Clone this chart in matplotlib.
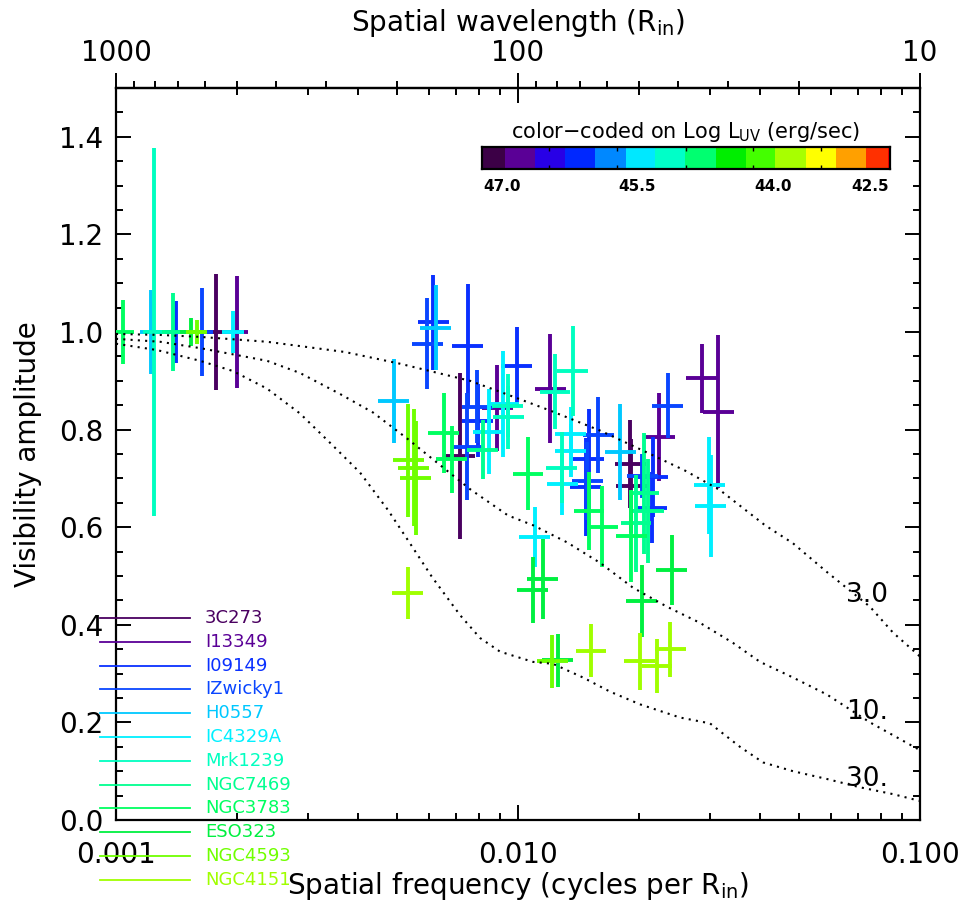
import numpy as np
import matplotlib
matplotlib.use("Agg")
import matplotlib.pyplot as plt
from matplotlib.lines import Line2D
from matplotlib.ticker import FixedLocator, NullFormatter, MultipleLocator

plt.rcParams["font.family"] = ["DejaVu Sans"]

# sources, legend order and colours
names = ['3C273', 'I13349', 'I09149', 'IZwicky1', 'H0557', 'IC4329A',
         'Mrk1239', 'NGC7469', 'NGC3783', 'ESO323', 'NGC4593', 'NGC4151']
colors = ['#4a0060', '#5a0096', '#0a30ff', '#0a46ff', '#00c8ff', '#00f0ff',
          '#00ffc0', '#00ff90', '#00ff60', '#00f040', '#70ff00', '#a0ff00']

# long-baseline visibilities
pt_src = (['3C273'] * 3 + ['I13349'] * 5 + ['I09149'] * 8 + ['IZwicky1'] * 7 +
          ['H0557'] * 3 + ['IC4329A'] * 8 + ['Mrk1239'] * 5 + ['NGC7469'] * 4 +
          ['NGC3783'] * 6 + ['ESO323'] * 5 + ['NGC4593'] * 4 + ['NGC4151'] * 5)
freq = [0.00717, 0.01900, 0.01911,
        0.01202, 0.00887, 0.02243, 0.02864, 0.03150,
        0.00615, 0.00749, 0.00793, 0.00993, 0.01498, 0.01476, 0.02161, 0.02154,
        0.00594, 0.00747, 0.00791, 0.01584, 0.01485, 0.02035, 0.02357,
        0.00624, 0.00491, 0.01794,
        0.00918, 0.00846, 0.01351, 0.01351, 0.01290, 0.01102, 0.02991, 0.03015,
        0.01368, 0.01236, 0.00942, 0.00947, 0.01283,
        0.00817, 0.02058, 0.02106, 0.01966,
        0.00654, 0.00685, 0.01059, 0.01911, 0.01502, 0.01622,
        0.02412, 0.02030, 0.01151, 0.01087, 0.01254,
        0.00534, 0.00551, 0.00556, 0.01218,
        0.00532, 0.01519, 0.02008, 0.02394, 0.02217]
vis = [0.745, 0.730, 0.684,
       0.884, 0.845, 0.785, 0.905, 0.837,
       1.020, 0.971, 0.818, 0.931, 0.739, 0.682, 0.702, 0.640,
       0.976, 0.765, 0.847, 0.789, 0.694, 0.704, 0.849,
       1.009, 0.859, 0.754,
       0.853, 0.796, 0.792, 0.757, 0.688, 0.580, 0.686, 0.643,
       0.920, 0.878, 0.849, 0.825, 0.722,
       0.759, 0.670, 0.633, 0.608,
       0.794, 0.739, 0.710, 0.582, 0.633, 0.601,
       0.513, 0.449, 0.494, 0.471, 0.327,
       0.737, 0.722, 0.701, 0.325,
       0.465, 0.347, 0.325, 0.350, 0.315]
vis_err = [0.170, 0.090, 0.096,
           0.112, 0.088, 0.091, 0.070, 0.157,
           0.097, 0.127, 0.075, 0.079, 0.104, 0.100, 0.082, 0.073,
           0.093, 0.110, 0.075, 0.078, 0.080, 0.045, 0.066,
           0.087, 0.086, 0.099,
           0.109, 0.087, 0.055, 0.055, 0.063, 0.061, 0.099, 0.104,
           0.092, 0.076, 0.065, 0.065, 0.073,
           0.060, 0.124, 0.107, 0.099,
           0.082, 0.069, 0.075, 0.094, 0.080, 0.083,
           0.072, 0.073, 0.082, 0.068, 0.055,
           0.116, 0.120, 0.117, 0.055,
           0.053, 0.054, 0.058, 0.056, 0.055]
freq_err_dex = 0.0385

# short-baseline points (normalised to 1)
sb_src = ['NGC3783', 'H0557', 'Mrk1239', 'NGC7469', 'I09149', 'ESO323',
          'NGC4593', 'IZwicky1', '3C273', 'IC4329A', 'I13349']
sb_freq = [0.001039, 0.001222, 0.001245, 0.001384, 0.001410, 0.001534,
           0.001587, 0.001634, 0.001773, 0.001954, 0.001996]
sb_vis = [1.0] * len(sb_freq)
sb_err = [0.066, 0.086, 0.377, 0.080, 0.064, 0.028, 0.025, 0.091, 0.118, 0.044, 0.114]
sb_freq_err_dex = 0.027

# ring model curves (labelled by size)
c3_f = [0.001, 0.001287, 0.001618, 0.002375, 0.003712, 0.005088, 0.007596, 0.009126,
        0.01202, 0.01600, 0.02046, 0.02603, 0.03180, 0.04116, 0.04831, 0.05870,
        0.07509, 0.08568, 0.1]
c3_v = [0.996, 0.994, 0.990, 0.980, 0.959, 0.935, 0.900, 0.876, 0.839, 0.798, 0.757,
        0.716, 0.676, 0.604, 0.567, 0.508, 0.437, 0.384, 0.335]
c10_f = [0.001, 0.001287, 0.001618, 0.002375, 0.002869, 0.003608, 0.004359, 0.005294,
         0.006145, 0.007596, 0.009445, 0.01090, 0.01324, 0.01600, 0.01932, 0.02348,
         0.02836, 0.03425, 0.04000, 0.04831, 0.05870, 0.07509, 0.1]
c10_v = [0.986, 0.980, 0.967, 0.941, 0.916, 0.873, 0.835, 0.782, 0.739, 0.678, 0.624,
         0.604, 0.569, 0.527, 0.476, 0.437, 0.404, 0.363, 0.324, 0.292, 0.257, 0.200, 0.143]
c30_f = [0.001, 0.001265, 0.001618, 0.001954, 0.002375, 0.002869, 0.003407, 0.004046,
         0.004750, 0.005386, 0.006110, 0.007173, 0.008046, 0.009022, 0.01090, 0.01222,
         0.01451, 0.01694, 0.02012, 0.02529, 0.03003, 0.03565, 0.04069, 0.04831,
         0.05870, 0.07093, 0.08568, 0.1]
c30_v = [0.976, 0.963, 0.941, 0.920, 0.884, 0.833, 0.773, 0.712, 0.635, 0.567, 0.498,
         0.420, 0.373, 0.345, 0.324, 0.320, 0.292, 0.263, 0.237, 0.210, 0.198, 0.150,
         0.118, 0.100, 0.084, 0.067, 0.053, 0.039]
curve_labels = ['3.0', '10.', '30.']
curve_label_f = [0.0738, 0.0738, 0.0738]
curve_label_v = [0.461, 0.222, 0.084]

# colour bar (Log L_UV)
cbar_edges = [47.22, 46.97, 46.63, 46.30, 45.97, 45.63, 45.30, 44.97, 44.63,
              44.30, 43.97, 43.63, 43.30, 42.97, 42.72, 42.70]
cbar_colors = ['#3c0046', '#5a0096', '#2800e6', '#0028ff', '#0088ff', '#00e8ff',
               '#00ffc8', '#00ff70', '#00ee00', '#44ff00', '#a8ff00', '#ffff00',
               '#ffa000', '#ff3000', '#ff0000']
cbar_label_pos = [47.0, 45.5, 44.0, 42.92]
cbar_labels = ['47.0', '45.5', '44.0', '42.5']

fig = plt.figure(figsize=(9.63, 9.08), dpi=100)
ax = fig.add_axes([116 / 963, 88 / 908, 804 / 963, 732 / 908])
ax.set_xscale('log')
ax.set_xlim(0.001, 0.1)
ax.set_ylim(0, 1.5)

dot = (0, (1, 2.5))
for cf, cv in [(c3_f, c3_v), (c10_f, c10_v), (c30_f, c30_v)]:
    ax.plot(cf, cv, color='k', lw=1.5, ls=dot, zorder=4)
for lab, lf, lv in zip(curve_labels, curve_label_f, curve_label_v):
    ax.text(lf, lv, lab, fontsize=19, ha='center', va='center')

freq = np.array(freq)
vis = np.array(vis)
vis_err = np.array(vis_err)
pt_src = np.array(pt_src)
sb_freq = np.array(sb_freq)
sb_err = np.array(sb_err)
sb_src = np.array(sb_src)

fx = 10 ** freq_err_dex
sfx = 10 ** sb_freq_err_dex
for name, c in zip(names, colors):
    m = pt_src == name
    if m.any():
        f = freq[m]
        ax.errorbar(f, vis[m], yerr=vis_err[m], xerr=[f - f / fx, f * fx - f],
                    fmt='none', ecolor=c, elinewidth=2.8, capsize=0, zorder=3)
    m = sb_src == name
    if m.any():
        f = sb_freq[m]
        ax.errorbar(f, np.array(sb_vis)[m], yerr=sb_err[m], xerr=[f - f / sfx, f * sfx - f],
                    fmt='none', ecolor=c, elinewidth=2.8, capsize=0, zorder=3)

# axes and ticks
ax.set_xticks([0.001, 0.01, 0.1])
ax.set_xticklabels(['0.001', '0.010', '0.100'])
ax.xaxis.set_minor_formatter(NullFormatter())
ax.set_yticks(np.arange(0, 1.41, 0.2))
ax.set_yticklabels(['%.1f' % v for v in np.arange(0, 1.41, 0.2)])
ax.yaxis.set_minor_locator(MultipleLocator(0.05))
ax.tick_params(which='both', direction='in', top=True, right=True, width=1.4)
ax.tick_params(which='major', length=11, labelsize=20)
ax.tick_params(axis='x', which='major', pad=15)
ax.tick_params(axis='y', which='major', pad=9)
ax.tick_params(which='minor', length=5)
for s in ax.spines.values():
    s.set_linewidth(1.6)

ax.set_ylabel('Visibility amplitude', fontsize=20)
ax.yaxis.set_label_coords(-0.092, 0.5)
ax.set_xlabel(r'Spatial frequency (cycles per R$_{\rm in}$)', fontsize=20)
ax.xaxis.set_label_coords(0.5, -0.068)

inv = lambda x: 1.0 / np.maximum(x, 1e-12)
secax = ax.secondary_xaxis('top', functions=(inv, inv))
secax.set_xticks([1000, 100, 10])
secax.set_xticklabels(['1000', '100', '10'])
secax.xaxis.set_minor_locator(FixedLocator([900, 800, 700, 600, 500, 400, 300, 200,
                                            90, 80, 70, 60, 50, 40, 30, 20]))
secax.xaxis.set_minor_formatter(NullFormatter())
secax.tick_params(which='both', direction='out', width=1.4, labelsize=20)
secax.tick_params(which='major', length=11, pad=4)
secax.tick_params(which='minor', length=5)
secax.spines['top'].set_linewidth(1.6)
secax.set_xlabel(r'Spatial wavelength (R$_{\rm in}$)', fontsize=20, labelpad=6)

# colour bar
cax = fig.add_axes([482 / 963, 1 - 169 / 908, 408 / 963, 22 / 908])
for k in range(len(cbar_colors)):
    cax.axvspan(cbar_edges[k], cbar_edges[k + 1], color=cbar_colors[k], lw=0)
cax.set_xlim(cbar_edges[0], cbar_edges[-1])
cax.set_ylim(0, 1)
cax.set_yticks([])
cax.set_xticks([46.48, 45.72, 44.96, 44.22, 43.46])
cax.set_xticklabels([])
cax.tick_params(axis='x', direction='in', top=True, bottom=True, length=3, width=1)
for s in cax.spines.values():
    s.set_linewidth(1.6)
for lp, lt in zip(cbar_label_pos, cbar_labels):
    cax.text(lp, -0.45, lt, transform=cax.get_xaxis_transform(), ha='center',
             va='top', fontsize=11, fontweight='bold')
fig.text(686 / 963, 1 - 132 / 908, r'color$-$coded on Log L$_{\rm UV}$ (erg/sec)',
         ha='center', va='center', fontsize=15)

# legend drawn below the left part of the frame
for i, (name, c) in enumerate(zip(names, colors)):
    y = 1 - (618 + i * 23.8) / 908
    fig.add_artist(Line2D([100 / 963, 190 / 963], [y, y], color=c, lw=1.3, zorder=5))
    fig.text(205 / 963, y, name, color=c, fontsize=13, va='center',
             family=['Liberation Sans Narrow', 'DejaVu Sans'])

fig.savefig('out.png', dpi=100)
